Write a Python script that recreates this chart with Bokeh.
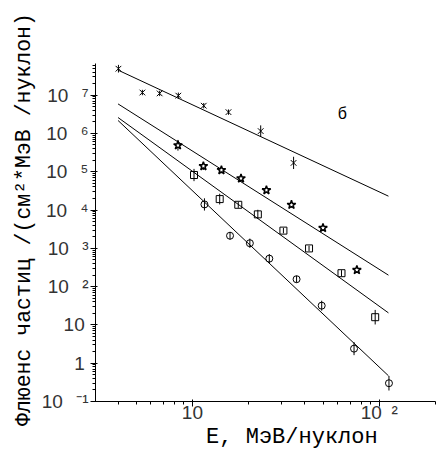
from bokeh.plotting import figure
from bokeh.models import FixedTicker, CustomJSTickFormatter, Label, Range1d
from bokeh.embed import file_html
from bokeh.resources import INLINE

# ---- data ----
# series 1: "x" markers
e1 = [4.02, 5.40, 6.68, 8.41, 11.5, 15.6, 23.2, 34.8]
f1 = [4.9e7, 1.17e7, 1.11e7, 9.7e6, 5.3e6, 3.6e6, 1.15e6, 1.7e5]
d1 = [0.10, 0.07, 0.07, 0.08, 0.07, 0.07, 0.15, 0.16]   # error half-width, decades

# series 2: stars
e2 = [8.37, 11.45, 14.3, 18.2, 24.9, 33.9, 50.0, 75.9]
f2 = [4.9e5, 1.4e5, 1.1e5, 6.7e4, 3.3e4, 1.37e4, 3.4e3, 272]
d2 = [0.14, 0.10, 0.08, 0.08, 0.07, 0.07, 0.07, 0.08]

# series 3: squares
e3 = [10.2, 14.0, 17.6, 22.4, 30.7, 42.1, 62.8, 95.1]
f3 = [8.2e4, 1.93e4, 1.37e4, 7.7e3, 2.9e3, 994, 224, 15.9]
d3 = [0.16, 0.14, 0.08, 0.12, 0.07, 0.07, 0.08, 0.19]

# series 4: circles
e4 = [11.6, 15.9, 20.3, 25.8, 36.1, 49.2, 73.3, 112.7]
f4 = [1.4e4, 2.13e3, 1.36e3, 538, 156, 31.8, 2.4, 0.30]
d4 = [0.16, 0.10, 0.12, 0.12, 0.09, 0.13, 0.17, 0.19]

# fitted power-law lines (end points)
line_e = [4.0, 112.0]
line_f1 = [4.5e7, 2.3e4]
line_f2 = [5.9e6, 199]
line_f3 = [2.6e6, 20.6]
line_f4 = [2.18e6, 0.47]

# axis ticks and labels
sp = "\u2002\u2009"
y_ticks = [0.1, 1, 10, 100, 1e3, 1e4, 1e5, 1e6, 1e7]
y_labels = ["10" + sp + "\u207b\u00b9", "1\u2009", "10\u2009", "10" + sp + "\u00b2", "10" + sp + "\u00b3",
            "10" + sp + "\u2074", "10" + sp + "\u2075", "10" + sp + "\u2076", "10" + sp + "\u2077"]
x_ticks = [10, 100]
x_labels = ["10", "10\u2002\u00b2"]

x_title = "\u00a0\u00a0\u00a0\u00a0E, МэВ/нуклон"
y_title = "\u00a0\u00a0Флюенс частиц /(см²*МэВ /нуклон)"
panel_mark = "б"

# ---- figure ----
p = figure(width=440, height=452, x_axis_type="log", y_axis_type="log",
           x_range=Range1d(3.03, 200), y_range=Range1d(0.1, 6.7e7),
           output_backend="svg", toolbar_location=None,
           min_border_left=95, min_border_right=5, min_border_top=63, min_border_bottom=49)
p.outline_line_color = None
p.grid.visible = False

y_minor = [k * 10.0 ** e for e in range(-1, 8) for k in range(2, 10) if k * 10.0 ** e <= 6.7e7]
x_minor = [k * 10.0 ** e for e in range(0, 3) for k in range(2, 10) if 3.03 <= k * 10.0 ** e <= 200]

p.yaxis.ticker = FixedTicker(ticks=y_ticks, minor_ticks=y_minor)
p.xaxis.ticker = FixedTicker(ticks=x_ticks, minor_ticks=x_minor)

code = """
for (let i = 0; i < vals.length; i++) {
  if (Math.abs(Math.log10(vals[i]) - Math.log10(tick)) < 1e-6) return labs[i];
}
return "";
"""
p.yaxis.formatter = CustomJSTickFormatter(args=dict(vals=y_ticks, labs=y_labels), code=code)
p.xaxis.formatter = CustomJSTickFormatter(args=dict(vals=x_ticks, labs=x_labels), code=code)

p.axis.major_tick_out = 5
p.axis.minor_tick_out = 3
p.axis.major_label_text_font = "Liberation Sans"
p.axis.major_label_text_font_size = "19px"
p.axis.major_label_text_color = "#333333"
p.axis.major_label_text_line_height = 0.8
p.axis.axis_label_text_font = "Liberation Mono"
p.axis.axis_label_text_font_style = "normal"
p.axis.axis_label_text_color = "black"
p.axis.axis_label_text_line_height = 0.8

p.xaxis.axis_label = x_title
p.yaxis.axis_label = y_title
p.xaxis.axis_label_text_font_size = "22px"
p.yaxis.axis_label_text_font_size = "21.5px"
p.xaxis.major_label_standoff = -5
p.xaxis.axis_label_standoff = -1
p.yaxis.major_label_standoff = 2
p.yaxis.axis_label_standoff = 3

# ---- lines ----
for lf in (line_f1, line_f2, line_f3, line_f4):
    p.line(line_e, lf, line_color="black", line_width=1)

# ---- error bars + markers ----
def errbars(e, f, d):
    lo = [v * 10 ** (-w) for v, w in zip(f, d)]
    hi = [v * 10 ** (w) for v, w in zip(f, d)]
    p.segment(x0=e, y0=lo, x1=e, y1=hi, line_color="black", line_width=1)

errbars(e1, f1, d1)
errbars(e2, f2, d2)
errbars(e3, f3, d3)
errbars(e4, f4, d4)

p.scatter(e1, f1, marker="x", size=8, line_color="black", line_width=1)
p.scatter(e2, f2, marker="star", size=9, line_color="black", fill_color="white", line_width=1.5)
p.scatter(e3, f3, marker="square", size=7, line_color="black", fill_alpha=0, line_width=1)
p.scatter(e4, f4, marker="circle", size=7, line_color="black", fill_alpha=0, line_width=1)

p.add_layout(Label(x=63.5, y=3.4e6, text=panel_mark, text_font="Liberation Sans",
                   text_font_size="16px", text_align="center", text_baseline="middle",
                   text_color="black"))

open("out.html", "w").write(file_html(p, INLINE))
